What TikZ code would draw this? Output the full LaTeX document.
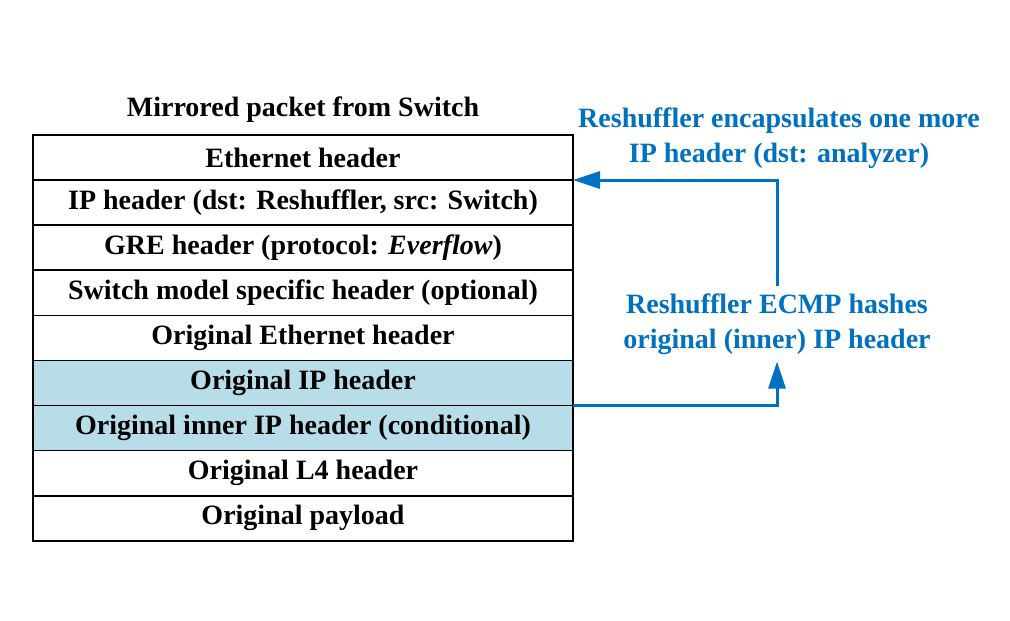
\documentclass[tikz,border=0pt]{standalone}
\usepackage{fontspec}
\setmainfont{Liberation Serif}
\usepackage{tikz}
\usetikzlibrary{positioning,arrows.meta}

\definecolor{hashblue}{RGB}{0,112,192}
\definecolor{hashfill}{RGB}{183,221,232}

\begin{document}
\begin{tikzpicture}
[
  x=0.5pt,
  y=-0.5pt,
	hdr/.style={draw,line width=0.8pt,minimum width=270pt,minimum height=22.55pt,inner sep=0pt,outer sep=0pt,font=\fontsize{14}{17}\selectfont\bfseries},
	hashed/.style={hdr,fill=hashfill},
	note/.style={text=hashblue,align=center,font=\fontsize{14}{17.5}\selectfont\bfseries},
	flow/.style={hashblue,line width=1.5pt,-{Triangle[length=13.5pt,width=8.5pt]}}
]
\useasboundingbox (0,0) rectangle (1010,620);

% packet
\node[font=\fontsize{14}{17}\selectfont\bfseries] (title) at (303,110) {Mirrored packet from Switch};

\node[hdr] (eth) at (303,157.5) {Ethernet header};
\node[hdr,below=0pt of eth] (ip) {IP header (dst: Reshuffler, src: Switch)};
\node[hdr,below=0pt of ip] (gre) {GRE header (protocol: \textit{Everflow})};
\node[hdr,below=0pt of gre] (model) {Switch model specific header (optional)};
\node[hdr,below=0pt of model] (oeth) {Original Ethernet header};
\node[hashed,below=0pt of oeth] (oip) {Original IP header};
\node[hashed,below=0pt of oip] (oinner) {Original inner IP header (conditional)};
\node[hdr,below=0pt of oinner] (ol4) {Original L4 header};
\node[hdr,below=0pt of ol4] (opay) {Original payload};

% reshuffler
\node[note] (encap) at (779,138) {Reshuffler encapsulates one more\\IP header (dst: analyzer)};
\node[note] (ecmp) at (777,324) {Reshuffler ECMP hashes\\original (inner) IP header};

\draw[flow] (oip.south east) -| (ecmp.south);
\draw[flow] (ecmp.north) |- (eth.south east);

\end{tikzpicture}
\end{document}
